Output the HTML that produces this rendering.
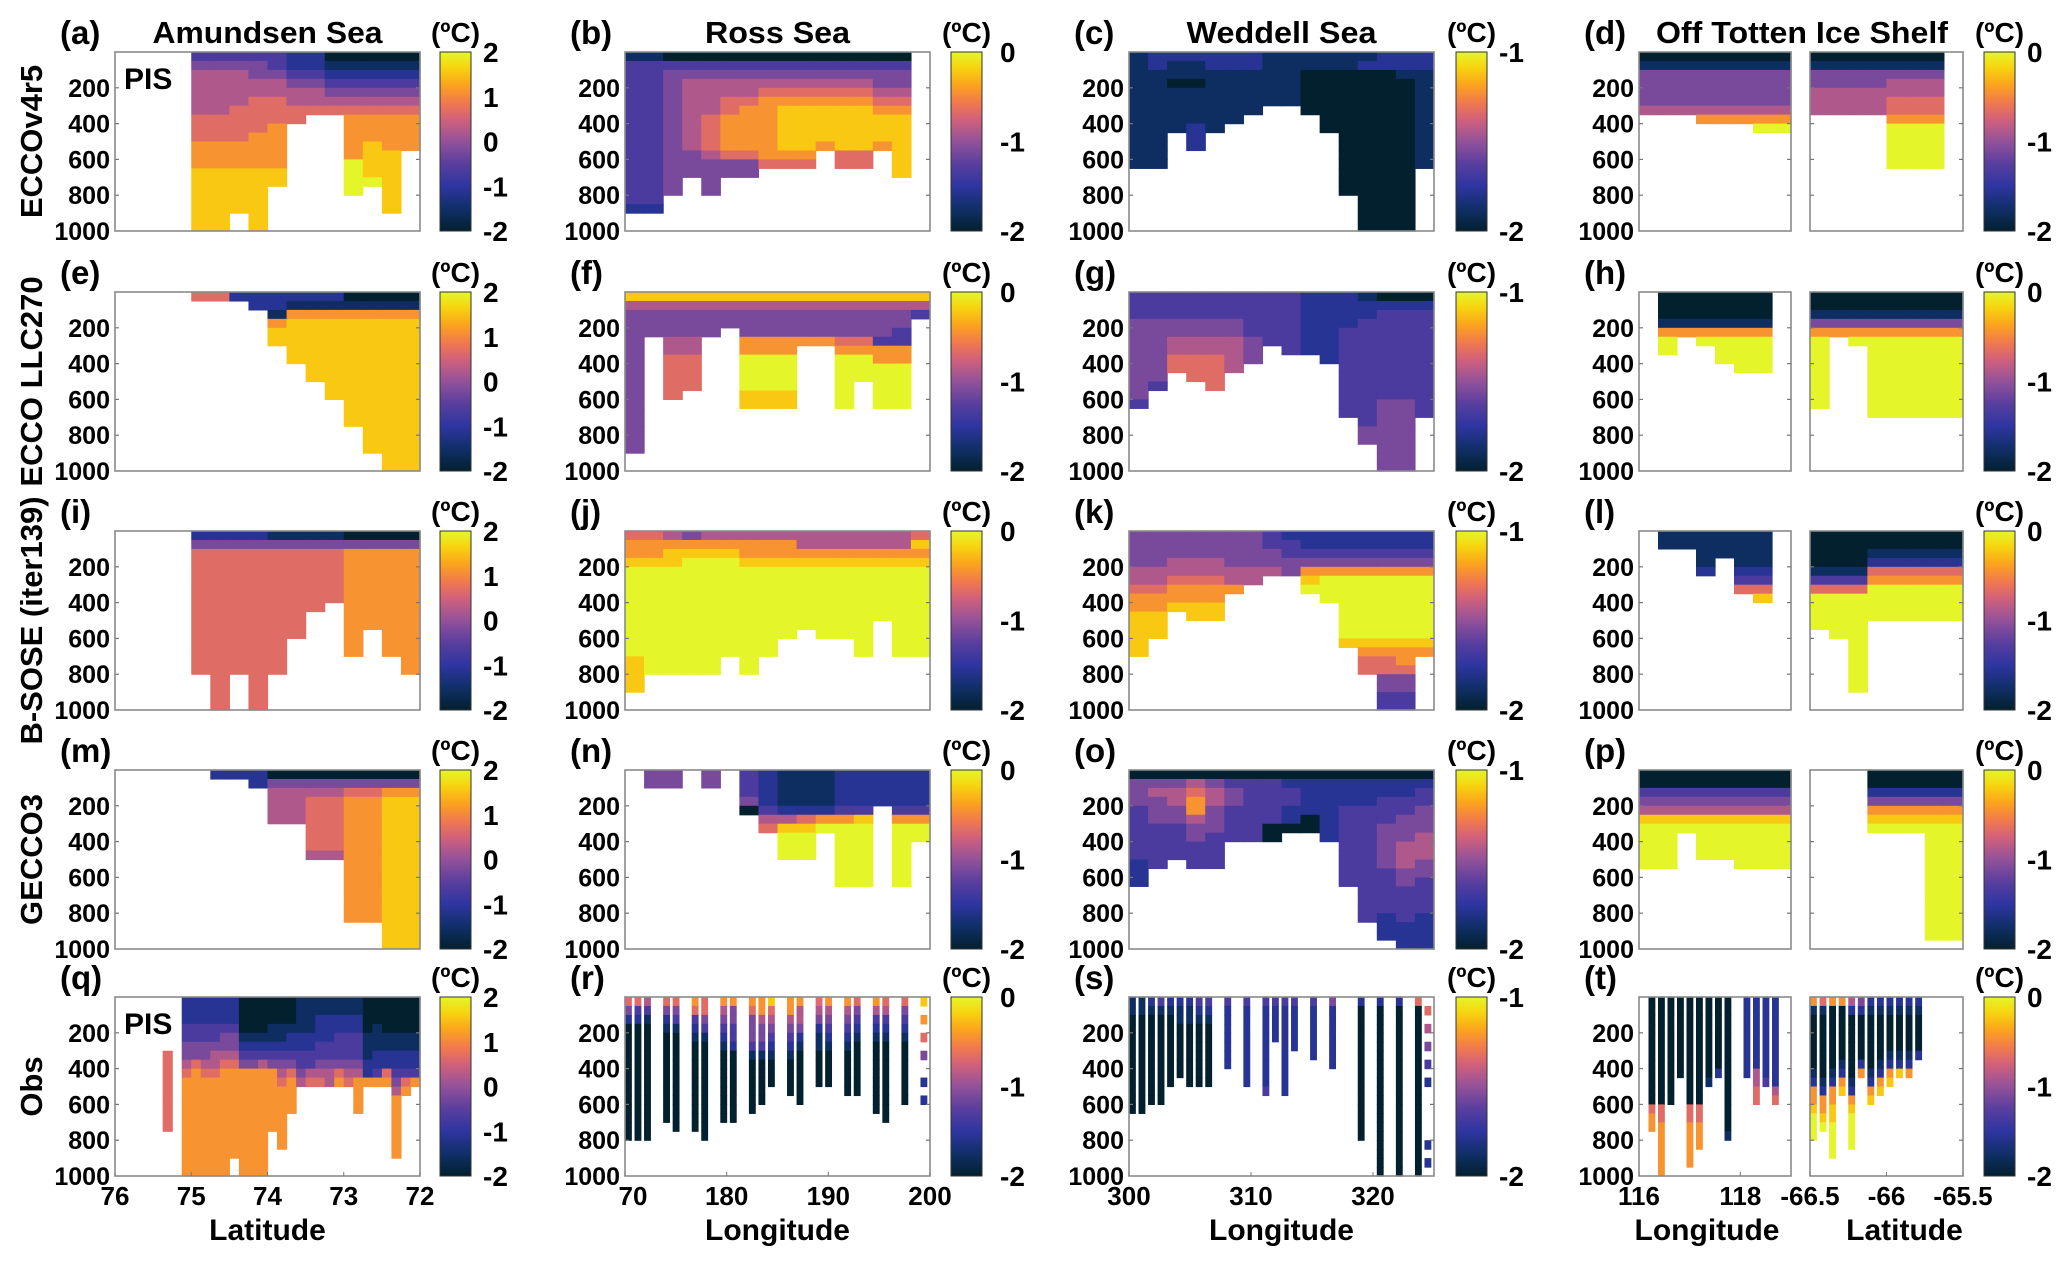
<!DOCTYPE html>
<html><head><meta charset="utf-8">
<style>
html,body{margin:0;padding:0;background:#fff;}
svg{display:block;font-family:"Liberation Sans",Arial,sans-serif;font-weight:bold;}
</style></head>
<body>
<svg id="fig" xmlns="http://www.w3.org/2000/svg" width="2067" height="1264" viewBox="0 0 2067 1264">
<defs id="defs"></defs>
<g id="cells"></g>
<g id="frames"></g>
<g id="labels"></g>
</svg>
<script>
// ---- colour scale stops (styling) ----
const cmapStops=[[0,'#03202e'],[0.12,'#0f2f66'],[0.25,'#2e35a0'],[0.38,'#5b3f9e'],[0.5,'#93529a'],[0.62,'#d0607c'],[0.72,'#f27a4c'],[0.82,'#fba51c'],[0.91,'#f7d30f'],[1,'#e4f62a']];

// ---- data: temperature levels 0..9 (0 = colorbar min, 9 = colorbar max), one string per x-column, 50 m per char ----
const pA=["","","","","34555556667778888888","34555556667778888888","345555666677788888","34455666677778888888","334556667777788","22345566","2234556","0123456","0123456777779999","012345677788889","012345677778888888","01234567777"];
const pE=["","","","","6","6","2","22","221788","21788888","2178888888","217888888888","017888888888888","017888888888888888","01788888888888888888","01788888888888888888"];
const pI=["","","","","2466666666666666","24666666666666666666","2466666666666666","24666666666666666666","1466666666666666","146666666666","146666666","14666666","04777777777777","04777777777","04777777777777","0477777777777777"];
const pM=["","","","","","2","2","22","045555","045555","0456666665","0456666665","04677777777777777","04677777777777777","04788888888888888888","04788888888888888888"];
const pQ=["","","","","","......666666666","","22233445677777777777","22233446777777777777","22233445677777777777","22233455677777777777","22234456777777777777","222344567777777777..","00001234777777777777","00001234777777777777","00001235777777777777","000112347777777","00011234567777777","0001223467777","1111223345","1111223356","1122233456","1122233455","1122333467","1122333456","1122333457777","0000111227","0001112237","0000112267","000011223457777777","00001122367","0000112237"];
const pB=["133333333333333332","133333333333333332","0344444444444444","03455555555444","0345555666654444","03455667777644","03455677777644","0345677777776","0345678888876","0345678888876","03456788887","0345678888866","0345678888866","03445678887","03445678888888",""];
const pF=["854444444444444444","85444","854445566666","85444556666","85444","8544","8544477999988","8544477999988","8544477999988","854447","854447","8544467999999","8544467999","8544437799999","8544337799999","853"];
const pJ=["677899999999998888","6778999999999999","5788999999999999","4789999999999999","5789999999999999","57899999999999","5778999999999999","57789999999999","577899999999","55789999999","557899999999","557899999999","55789999999999","5578999999","55789999999999","68789999999999"];
const pN=["","44","44","","44","","33340","2222356","1111258999","1111268999","1111279","2222379999999","2222389999999","2222","2222379999999","22223799"];
const pR=["6420000000000000","6320000000000000","5310000000000000","","64210000000000","643100000000000","","763210000000000","6643100000000000","","75432100000000","74433200000000","","7644431000000","775443100000","8654321000","","77543210000","755421000000","","6542110000","7543210000","","75432100000","64321000000","","7532100000000","65321000000000","","643210000000","","8.7.6.4..2.2"];
const pC=["1111111111111","2211111111111","211011111","21101111222","221111111","22111111","2211111","111111","111111","1100000","110000000","1100000000000000","12000000000000000000","22000000000000000000","22100000000000000000","2211111111111"];
const pG=["3334444444443","33344444443","333445566","3334455666","33344556666","333445555","33333444","333333","3333333","2222222","22222222","22223333333333","12233333333333344","02333333333344444444","02333333333344444444","02333333333333"];
const pK=["44445567788888","444455677888","444556778","4445567788","4445567788","4444557","444455","33445","23344","2234789","22347999","2234799999998","2234799999998766","22347999999987664433","22347999999987764433","22347999999987"];
const pO=["0444333333222","04544433333","0455443333","05677544333","04554443333","03443333","03333333","03333300","0233220","0222200","02222222","0222333333333","02223333333333333","0223334444433333222","02233444555443333222","02334445554433332222"];
const pS=["1100000000000","1100000000000","210000000000","310000000000","2100000000","211000000","2110000000","3210000000","3210000000","","32222222","","3222222222","","32222222223","32222","32222222222","322222","","3222222","","42222222","","","2000000000000000","","20000000000000000000","","20000000000000000000","","60000000000000000000",".6.5.4.3.2......2.2"];
const pDL=["0144445","0144445","0144445","01444457","01444457","01444457","014444579","014444579"];
const pDR=["0144555","0144555","0144555","0144555","0145566799999","0145566799999","0145566799999",""];
const pHL=["","0001799","00017","000179","00017999","000179999","000179999",""];
const pHR=["0014799999999","00147","001479","00147999999999","00147999999999","00147999999999","00147999999999","00147999999999"];
const pLL=["","11","11","11112","111","1111236","11112368",""];
const pLR=["00001369999","000013699999","000013699999999999","0012679999","0012679999","0012679999","0012679999","0012679999"];
const pPL=["00345899999","00345899999","0034589","0034589999","0034589999","00345899999","00345899999","00345899999"];
const pPR=["","","","0024789","0024789","0024789","0024789999999999999","0024789999999999999"];
const pTL=["","000000000000677","00000000000066777777","000000000000","000000000","0000000000006677777","00000000000066777","0000000001","000000002","0000000000000001","","222222222","222222225566","2222222223","222222222256",""];
const pTR=["7100000012778999","610000000127789","700000001277889999","70000001278","52000000012789999","420000027","210000001278","21000001278","2100001278","210000128","210000127","2100002","","","",""];

// ---- colour-bar ranges and tick labels per column (degC) ----
const cbRanges=[[-2,2],[-2,0],[-2,-1],[-2,0]];
const cbTicks=[[2,1,0,-1,-2],[0,-1,-2],[-1,-2],[0,-1,-2]];
const depthTicks=[200,400,600,800,1000];
const depthMax=1000, levelStep=50;
const colTitles=["Amundsen Sea","Ross Sea","Weddell Sea","Off Totten Ice Shelf"];
const rowTitles=["ECCOv4r5","ECCO LLC270","B-SOSE (iter139)","GECCO3","Obs"];
const xTickLabels=[["76","75","74","73","72"],["70","180","190","200"],["300","310","320"],["116","118"],["-66.5","-66","-65.5"]];
const xTickFrac=[[0,0.25,0.5,0.75,1],[0,1/3,2/3,1],[0,0.4,0.8],[0,2/3],[0,0.5,1]];
const xTitles=["Latitude","Longitude","Longitude","Longitude","Latitude"];
const panelLetters=["a","b","c","d","e","f","g","h","i","j","k","l","m","n","o","p","q","r","s","t"];

// ---- layout (positions) ----
const NS='http://www.w3.org/2000/svg';
const colX=[115,625,1129,1639], plotW=305, rowY=[52,292,531,770,997], plotH=179;
const cbX=[440,951,1456,1984], cbW=31;
const sub=[[1639,152],[1810,153]];
const grid=[[pA,pB,pC,[pDL,pDR]],[pE,pF,pG,[pHL,pHR]],[pI,pJ,pK,[pLL,pLR]],[pM,pN,pO,[pPL,pPR]],[pQ,pR,pS,[pTL,pTR]]];

function hex(h){return [parseInt(h.slice(1,3),16),parseInt(h.slice(3,5),16),parseInt(h.slice(5,7),16)];}
function cmap(t){t=Math.max(0,Math.min(1,t));for(let i=1;i<cmapStops.length;i++){if(t<=cmapStops[i][0]){const a=cmapStops[i-1],b=cmapStops[i];const f=(t-a[0])/(b[0]-a[0]);const A=hex(a[1]),B=hex(b[1]);return 'rgb('+A.map((v,k)=>Math.round(v+(B[k]-v)*f)).join(',')+')';}}return cmapStops[cmapStops.length-1][1];}
function el(tag,attrs,parent,text){const e=document.createElementNS(NS,tag);for(const k in attrs)e.setAttribute(k,attrs[k]);if(text!==undefined)e.textContent=text;parent.appendChild(e);return e;}
const gCells=document.getElementById('cells'),gFr=document.getElementById('frames'),gLab=document.getElementById('labels'),defs=document.getElementById('defs');

function yScale(top,d){return top+d/depthMax*plotH;}
function drawPanel(data,x0,w,top,range,name,obs){
  const g=el('g',{},gCells);
  
  
  const cw=w/data.length;
  const bw=obs?cw*0.72:cw+0.6;
  data.forEach((s,c)=>{
    for(let r=0;r<s.length;r++){
      const ch=s[r]; if(ch==='.')continue;
      const temp=range[0]+(+ch)/9*(range[1]-range[0]);
      const t=(temp-range[0])/(range[1]-range[0]);
      const y1=yScale(top,r*levelStep),y2=yScale(top,(r+1)*levelStep);
      const rc=el('rect',{x:(x0+c*cw).toFixed(2),y:y1.toFixed(2),width:bw.toFixed(2),height:(y2-y1+0.6).toFixed(2),fill:cmap(t)},g);
      
      
    }
  });
  const f=el('rect',{x:x0,y:top,width:w,height:plotH,fill:'none',stroke:'#8a8a8a','stroke-width':1.6},gFr);
  
  
  depthTicks.slice(0,4).forEach(d=>{const y=yScale(top,d);el('line',{x1:x0,x2:x0+4,y1:y,y2:y,stroke:'#777','stroke-width':1.2},gFr);el('line',{x1:x0+w-4,x2:x0+w,y1:y,y2:y,stroke:'#777','stroke-width':1.2},gFr);});
}

const lg=el('linearGradient',{id:'cbg',x1:0,y1:1,x2:0,y2:0},defs);
cmapStops.forEach(s=>el('stop',{offset:s[0],'stop-color':s[1]},lg));

for(let r=0;r<5;r++){
  const top=rowY[r];
  for(let c=0;c<4;c++){
    const obs=(r===4 && c>0);
    const letter=panelLetters[r*4+c];
    const pname='panel-'+letter;
    if(c<3) drawPanel(grid[r][c],colX[c],plotW,top,cbRanges[c],pname,obs);
    else { drawPanel(grid[r][c][0],sub[0][0],sub[0][1],top,cbRanges[c],pname+'-left',obs); drawPanel(grid[r][c][1],sub[1][0],sub[1][1],top,cbRanges[c],pname+'-right',obs); }
    depthTicks.forEach(d=>{const t=el('text',{x:colX[c]-5,y:yScale(top,d)+9,'text-anchor':'end','font-size':25},gLab,String(d));
      
      });
    const pl=el('text',{x:colX[c]-55,y:top-8,'font-size':33},gLab,'('+letter+')');
    
    
    const cb=el('rect',{x:cbX[c],y:top,width:cbW,height:plotH,fill:'url(#cbg)',stroke:'#333','stroke-width':1},gFr);
    
    
    const rg=cbRanges[c];
    cbTicks[c].forEach(v=>{const y=top+(rg[1]-v)/(rg[1]-rg[0])*plotH;
      const t=el('text',{x:cbX[c]+cbW+(c==1?18:12),y:y+10,'font-size':28},gLab,String(v));
      
      });
    const u=el('text',{x:cbX[c]+cbW/2,y:top-10,'text-anchor':'middle','font-size':28},gLab,'(ºC)');
    
    
  }
  const rt=el('text',{transform:'translate(42,'+(top+plotH/2)+') rotate(-90)','text-anchor':'middle','font-size':31},gLab,rowTitles[r]);
  
  
}
colTitles.forEach((t,c)=>{const cx=c<3?colX[c]+plotW/2:1802;
  const e=el('text',{x:cx,y:43,'text-anchor':'middle','font-size':31,textLength:c==3?292:(c==0?230:(c==1?145:190)),lengthAdjust:'spacingAndGlyphs'},gLab,t);
  
  });
[52,997].forEach(y=>{const e=el('text',{x:124,y:y+37,'font-size':30},gLab,'PIS');
  
  });
const axes=[[colX[0],plotW],[colX[1],plotW],[colX[2],plotW],[sub[0][0],sub[0][1]],[sub[1][0],sub[1][1]]];
axes.forEach((a,i)=>{
  xTickLabels[i].forEach((lab,k)=>{const x=a[0]+xTickFrac[i][k]*a[1];
    el('line',{x1:x,x2:x,y1:rowY[4]+plotH-4,y2:rowY[4]+plotH,stroke:'#777'},gFr);
    const t=el('text',{x:x+(i==1&&k==0?8:0),y:1205,'text-anchor':'middle','font-size':26},gLab,lab);
    
    });
  const t=el('text',{x:a[0]+a[1]/2+(i==4?18:(i==3?-8:0)),y:1240,'text-anchor':'middle','font-size':30},gLab,xTitles[i]);
  
  
});
</script>
</body></html>
